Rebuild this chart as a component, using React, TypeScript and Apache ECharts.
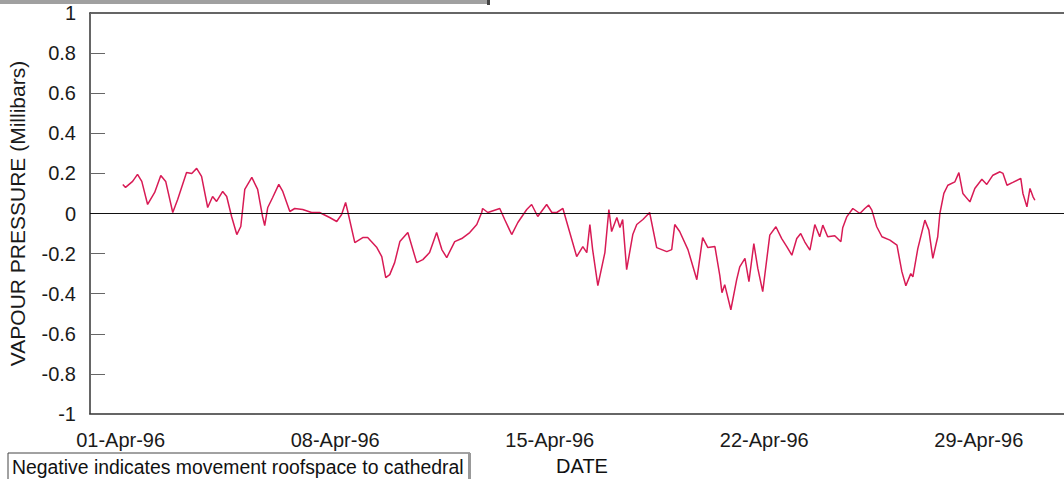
import React, { useEffect, useRef } from "react";
import * as echarts from "echarts";

// Days after 01-Apr-96 (0 = 01-Apr-96 00:00)
const days = [
  0.07, 0.16, 0.39, 0.55, 0.69, 0.88, 1.11, 1.31, 1.47, 1.7, 1.86, 2.15, 2.32, 2.48, 2.64, 2.84, 3.0, 3.13, 3.33, 3.46,
  3.62, 3.79, 3.92, 4.05, 4.28, 4.47, 4.63, 4.7, 4.8, 4.96, 5.16, 5.29, 5.52, 5.68, 5.94, 6.23, 6.49, 6.82, 7.05, 7.21,
  7.34, 7.41, 7.64, 7.9, 8.06, 8.36, 8.52, 8.65, 8.78, 8.94, 9.11, 9.37, 9.66, 9.86, 10.08, 10.31, 10.48, 10.64, 10.9,
  11.13, 11.39, 11.62, 11.78, 11.81, 11.98, 12.37, 12.53, 12.76, 12.96, 13.25, 13.41, 13.61, 13.9, 14.07, 14.23, 14.43,
  14.56, 14.88, 15.08, 15.21, 15.31, 15.4, 15.57, 15.8, 15.93, 16.02, 16.19, 16.29, 16.38, 16.51, 16.71, 16.84, 17.04,
  17.26, 17.49, 17.82, 17.98, 18.08, 18.24, 18.51, 18.8, 18.99, 19.16, 19.39, 19.55, 19.62, 19.71, 19.91, 20.1, 20.2,
  20.37, 20.5, 20.66, 20.79, 20.95, 21.18, 21.38, 21.57, 21.74, 21.9, 22.06, 22.19, 22.32, 22.49, 22.65, 22.81, 22.91,
  23.07, 23.3, 23.5, 23.56, 23.69, 23.89, 24.12, 24.28, 24.41, 24.51, 24.67, 24.84, 25.1, 25.33, 25.49, 25.62, 25.78,
  25.85, 26.01, 26.24, 26.37, 26.5, 26.66, 26.73, 26.86, 26.99, 27.22, 27.35, 27.48, 27.71, 27.87, 28.1, 28.26, 28.46,
  28.69, 28.79, 28.92, 29.11, 29.37, 29.44, 29.57, 29.67, 29.77, 29.83,
];

// Vapour pressure difference (millibars)
const pressure = [
  0.145, 0.13, 0.16, 0.195, 0.16, 0.045, 0.105, 0.19, 0.16, 0.005, 0.07, 0.205, 0.2, 0.225, 0.185, 0.03, 0.085, 0.06,
  0.11, 0.085, -0.015, -0.105, -0.065, 0.12, 0.18, 0.12, -0.015, -0.06, 0.03, 0.08, 0.145, 0.11, 0.01, 0.025, 0.02,
  0.005, 0.005, -0.02, -0.04, -0.005, 0.055, 0.01, -0.145, -0.12, -0.12, -0.17, -0.215, -0.32, -0.305, -0.245, -0.14,
  -0.095, -0.245, -0.23, -0.195, -0.095, -0.18, -0.22, -0.14, -0.125, -0.095, -0.055, 0.005, 0.025, 0.005, 0.025, -0.03,
  -0.105, -0.045, 0.02, 0.045, -0.015, 0.045, 0.005, 0.005, 0.025, -0.045, -0.215, -0.165, -0.195, -0.055, -0.18, -0.36,
  -0.195, 0.02, -0.09, -0.02, -0.07, -0.03, -0.28, -0.105, -0.055, -0.03, 0.005, -0.17, -0.19, -0.18, -0.055, -0.09,
  -0.18, -0.33, -0.12, -0.17, -0.165, -0.31, -0.395, -0.355, -0.48, -0.33, -0.266, -0.224, -0.34, -0.15, -0.274, -0.39,
  -0.108, -0.066, -0.125, -0.166, -0.208, -0.125, -0.1, -0.141, -0.183, -0.055, -0.116, -0.058, -0.116, -0.111, -0.141,
  -0.071, -0.017, 0.025, 0.0, 0.025, 0.042, 0.017, -0.066, -0.116, -0.133, -0.158, -0.29, -0.36, -0.3, -0.316, -0.175,
  -0.033, -0.083, -0.224, -0.116, 0.0, 0.1, 0.141, 0.158, 0.204, 0.1, 0.058, 0.125, 0.171, 0.145, 0.191, 0.208, 0.2,
  0.141, 0.155, 0.175, 0.1, 0.033, 0.125, 0.083, 0.066,
];

const tickDays = [0, 7, 14, 21, 28];
const tickLabels = ["01-Apr-96", "08-Apr-96", "15-Apr-96", "22-Apr-96", "29-Apr-96"];

const FONT = "Liberation Sans, Arial, sans-serif";

export default function App() {
  const ref = useRef<HTMLDivElement>(null);
  useEffect(() => {
    if (!ref.current) return;
    const chart = echarts.init(ref.current, undefined, { renderer: "svg" });
    const data = days.map((d, i) => [d, pressure[i]]);
    chart.setOption({
      animation: false,
      backgroundColor: "#ffffff",
      grid: { left: 90, right: 0, top: 13, bottom: 65, containLabel: false, outerBoundsMode: "none" },
      xAxis: [
        {
          type: "value",
          min: -1,
          max: 30.78,
          splitLine: { show: false },
          axisLine: { show: true, onZero: false, lineStyle: { color: "#333", width: 1.5 } },
          axisTick: { show: false },
          axisLabel: {
            customValues: tickDays,
            margin: 16,
            fontSize: 20,
            fontFamily: FONT,
            color: "#1a1a1a",
            formatter: (v: number) => tickLabels[tickDays.indexOf(Math.round(v))] ?? "",
          },
        },
        {
          type: "value",
          position: "top",
          min: -1,
          max: 30.78,
          splitLine: { show: false },
          axisLine: { show: true, onZero: false, lineStyle: { color: "#333", width: 1.5 } },
          axisTick: { show: false },
          axisLabel: { show: false },
        },
      ],
      yAxis: {
        type: "value",
        min: -1,
        max: 1,
        interval: 0.2,
        name: "VAPOUR PRESSURE (Millibars)",
        nameLocation: "middle",
        nameRotate: 90,
        nameGap: 62,
        nameTextStyle: { fontSize: 21, fontFamily: FONT, color: "#1a1a1a" },
        splitLine: { show: false },
        axisLine: { show: true, onZero: false, lineStyle: { color: "#333", width: 1.5 } },
        axisTick: { show: true, inside: true, length: 15, lineStyle: { color: "#666", width: 1 } },
        axisLabel: {
          margin: 14,
          fontSize: 20,
          fontFamily: FONT,
          color: "#1a1a1a",
          formatter: (v: number) => String(Math.round(v * 10) / 10),
        },
      },
      series: [
        {
          type: "line",
          data,
          showSymbol: false,
          symbol: "none",
          lineStyle: { color: "#d81b55", width: 1.5 },
          markLine: {
            silent: true,
            symbol: "none",
            label: { show: false },
            lineStyle: { color: "#111", width: 1.2, type: "solid" },
            data: [{ yAxis: 0 }],
          },
        },
      ],
      graphic: [
        {
          type: "rect",
          shape: { x: 0, y: 0, width: 490, height: 4 },
          style: { fill: "#a0a0a0" },
        },
        {
          type: "rect",
          shape: { x: 487, y: 0, width: 3, height: 5 },
          style: { fill: "#444" },
        },
        {
          type: "rect",
          shape: { x: 8, y: 453, width: 462, height: 32 },
          style: { fill: "#fff", stroke: "#444", lineWidth: 1 },
        },
        {
          type: "rect",
          shape: { x: 468, y: 453, width: 3, height: 32 },
          style: { fill: "#999" },
        },
        {
          type: "text",
          x: 12,
          y: 467,
          style: {
            text: "Negative indicates movement roofspace to cathedral",
            font: `19.4px ${FONT}`,
            fill: "#111",
            verticalAlign: "middle",
            align: "left",
          },
        },
        {
          type: "text",
          x: 582,
          y: 466,
          style: {
            text: "DATE",
            font: `20px ${FONT}`,
            fill: "#111",
            verticalAlign: "middle",
            align: "center",
          },
        },
      ],
    });
    return () => chart.dispose();
  }, []);
  return (
    <div
      ref={ref}
      style={{ position: "absolute", left: 0, top: 0, width: 1064, height: 479 }}
    />
  );
}
